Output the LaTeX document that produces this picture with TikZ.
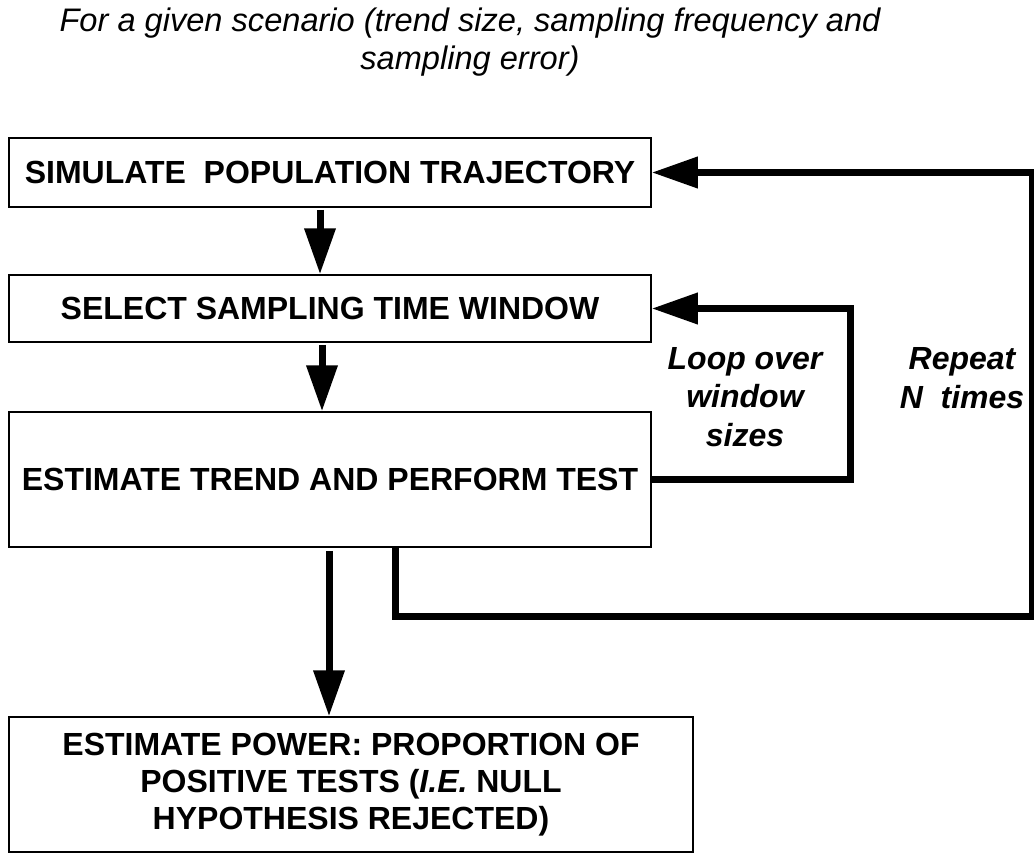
\documentclass[tikz,border=0pt]{standalone}
\usepackage{fontspec}
\setmainfont{Liberation Sans}
\usetikzlibrary{arrows.meta, positioning}

\tikzset{
  stepbox/.style={draw, line width=1.5pt, inner sep=0pt, align=center, font=\fontsize{32}{37}\selectfont\bfseries},
  flow/.style={line width=7pt, -{Triangle[length=46pt, width=30pt]}},
  note/.style={align=center, font=\fontsize{32}{38.5}\selectfont\bfseries\itshape}
}

\begin{document}
\begin{tikzpicture}[x=1pt, y=-1pt]
  \useasboundingbox (0,0) rectangle (1034,854);

  % Scenario
  \node[align=center, font=\fontsize{32.6}{38}\selectfont\itshape] (scen) at (470,42) {For a given scenario (trend size, sampling frequency and\\sampling error)};

  % Steps
  \node[stepbox, minimum width=642pt, minimum height=69pt] (sim) at (330,172.5) {SIMULATE\ \ POPULATION TRAJECTORY};
  \node[stepbox, minimum width=642pt, minimum height=67pt] (sel) at (330,308.5) {SELECT SAMPLING TIME WINDOW};
  \node[stepbox, minimum width=642pt, minimum height=135pt] (est) at (330,479.5) {ESTIMATE TREND AND PERFORM TEST};
  \node[stepbox, minimum width=684pt, minimum height=135pt] (pow) at (351,784.5) {ESTIMATE POWER: PROPORTION OF\\POSITIVE TESTS (\textit{I.E.} NULL\\HYPOTHESIS REJECTED)};

  % Down arrows
  \draw[flow, shorten <=2pt] ([xshift=-10pt]sim.south) -- ([xshift=-10pt]sel.north);
  \draw[flow, shorten <=2pt] ([xshift=-8pt]sel.south) -- ([xshift=-8pt]est.north);
  \draw[flow, shorten <=3pt] ([xshift=-1pt]est.south) -- ([xshift=-22pt]pow.north);

  % Loop over window sizes
  \coordinate (loopc) at (850,479.5);
  \draw[flow] (est.east) -- (loopc) |- (sel.east);
  \node[note] (looplab) at (745,397) {Loop over\\window\\sizes};

  % Repeat N times
  \coordinate (rep) at ([xshift=65pt]est.south);
  \coordinate (repc) at (1032,616);
  \draw[flow] (rep) |- (repc) |- (sim.east);
  \node[note] (replab) at (962,378) {Repeat\\N\ \ times};
\end{tikzpicture}
\end{document}
